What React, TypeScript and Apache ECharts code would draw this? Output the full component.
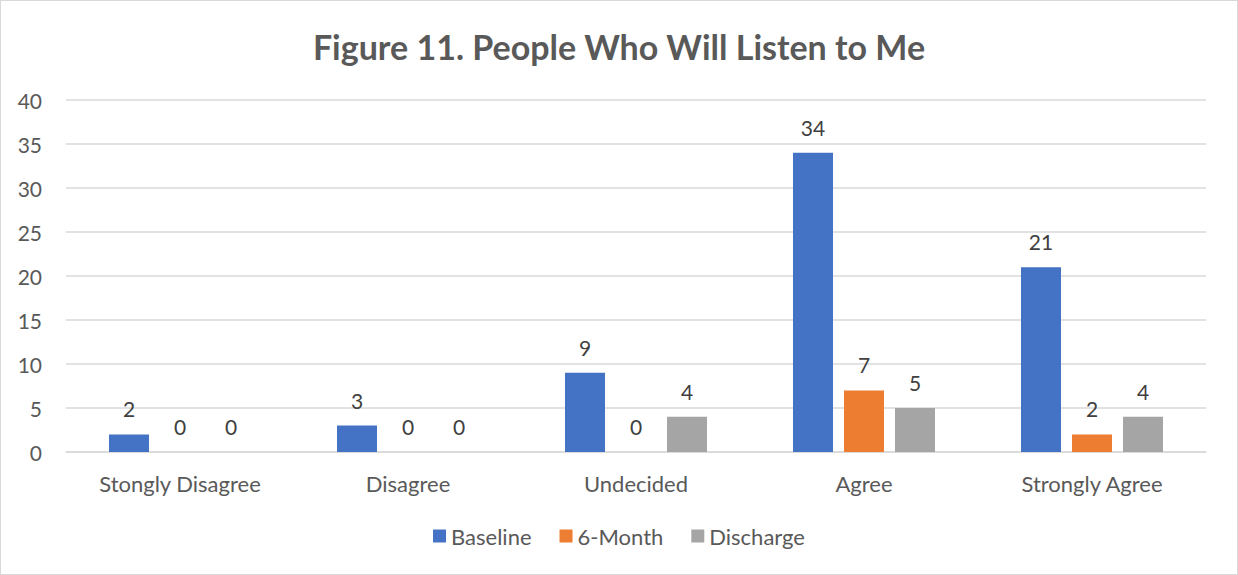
import React, { useEffect, useRef } from "react";
import * as echarts from "echarts";

const categories = ["Stongly Disagree", "Disagree", "Undecided", "Agree", "Strongly Agree"];
const baseline = [2, 3, 9, 34, 21];
const sixMonth = [0, 0, 0, 7, 2];
const discharge = [0, 0, 4, 5, 4];
const seriesNames = ["Baseline", "6-Month", "Discharge"];
const colors = ["#4472C4", "#ED7D31", "#A5A5A5"];

const FONT = "Lato, 'Open Sans', sans-serif";

export default function App() {
  const ref = useRef<HTMLDivElement>(null);
  useEffect(() => {
    if (!ref.current) return;
    const chart = echarts.init(ref.current, undefined, { renderer: "svg" });
    const mk = (name: string, data: number[], color: string) => ({
      name,
      type: "bar",
      data,
      barWidth: 40,
      barGap: "27.5%",
      itemStyle: { color },
      label: {
        show: true,
        position: "top",
        distance: 15,
        fontSize: 21,
        fontFamily: FONT,
        color: "#404040",
      },
    });
    chart.setOption({
      animation: false,
      backgroundColor: "#ffffff",
      textStyle: { fontFamily: FONT },
      title: {
        text: "Figure 11. People Who Will Listen to Me",
        left: "center",
        top: 23,
        textStyle: { fontSize: 34, fontWeight: "bold", color: "#595959", fontFamily: FONT },
      },
      legend: {
        bottom: 22,
        left: "center",
        itemWidth: 13,
        itemHeight: 13,
        itemGap: 28,
        icon: "rect",
        textStyle: { fontSize: 22, color: "#595959", fontFamily: FONT },
        data: seriesNames,
      },
      grid: { left: 65, right: 31, top: 99, bottom: 122, containLabel: false },
      xAxis: {
        type: "category",
        data: categories,
        axisLine: { lineStyle: { color: "#D9D9D9", width: 1.5 } },
        axisTick: { show: false },
        axisLabel: { fontSize: 22, color: "#595959", margin: 20, fontFamily: FONT },
      },
      yAxis: {
        type: "value",
        min: 0,
        max: 40,
        interval: 5,
        axisLine: { show: false },
        axisTick: { show: false },
        splitLine: { lineStyle: { color: "#D9D9D9", width: 1.5 } },
        axisLabel: { fontSize: 21, color: "#595959", margin: 24, fontFamily: FONT },
      },
      series: [
        mk(seriesNames[0], baseline, colors[0]),
        mk(seriesNames[1], sixMonth, colors[1]),
        mk(seriesNames[2], discharge, colors[2]),
      ],
    });
    return () => chart.dispose();
  }, []);
  return (
    <div
      style={{
        position: "absolute",
        left: 0,
        top: 0,
        width: 1238,
        height: 575,
        boxSizing: "border-box",
        border: "1.5px solid #D9D9D9",
        background: "#fff",
      }}
    >
      <div ref={ref} style={{ width: "100%", height: "100%" }} />
    </div>
  );
}
